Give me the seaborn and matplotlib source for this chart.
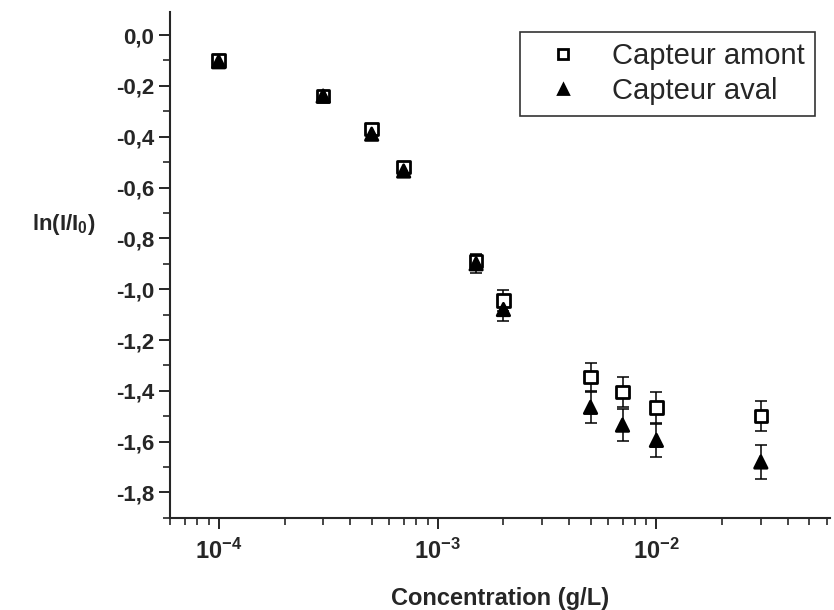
import seaborn as sns
import matplotlib.pyplot as plt
import matplotlib.ticker as mticker
import numpy as np
import pandas as pd

# data
concentration = [1e-4, 3e-4, 5e-4, 7e-4, 1.5e-3, 2e-3, 5e-3, 7e-3, 1e-2, 3e-2]
amont = [-0.10, -0.24, -0.37, -0.52, -0.89, -1.045, -1.345, -1.405, -1.465, -1.50]
amont_err = [0.015, 0.015, 0.02, 0.02, 0.03, 0.04, 0.055, 0.06, 0.06, 0.06]
aval = [-0.105, -0.24, -0.39, -0.535, -0.90, -1.08, -1.465, -1.535, -1.595, -1.68]
aval_err = [0.02, 0.02, 0.02, 0.025, 0.035, 0.045, 0.06, 0.062, 0.065, 0.068]

df = pd.concat([
    pd.DataFrame({"conc": concentration, "val": amont, "err": amont_err, "capteur": "Capteur amont"}),
    pd.DataFrame({"conc": concentration, "val": aval, "err": aval_err, "capteur": "Capteur aval"}),
])

sns.set_style("ticks")
plt.rcParams['font.family'] = ['Liberation Sans', 'DejaVu Sans']
plt.rcParams['mathtext.fontset'] = 'custom'
plt.rcParams['mathtext.rm'] = 'Liberation Sans'
plt.rcParams['mathtext.bf'] = 'Liberation Sans:bold'
plt.rcParams['axes.unicode_minus'] = False

fig = plt.figure(figsize=(8.34, 6.10), dpi=100)
ax = fig.add_axes([0.204, 0.151, 0.791, 0.829])

# error bars
for name, g in df.groupby("capteur"):
    ax.errorbar(g["conc"], g["val"], yerr=g["err"], fmt="none", ecolor="black",
                elinewidth=1.1, capsize=4, capthick=1.1, zorder=2)

sns.scatterplot(data=df, x="conc", y="val", style="capteur",
                markers={"Capteur amont": "s", "Capteur aval": "^"},
                hue="capteur", palette={"Capteur amont": "white", "Capteur aval": "black"},
                edgecolor="black", linewidth=2, s=80, ax=ax, zorder=3)

ax.set_xscale("log")
ax.set_xlim(6e-5, 6.2e-2)
ax.set_ylim(-1.9, 0.09)

ax.yaxis.set_major_locator(mticker.MultipleLocator(0.2))
ax.yaxis.set_minor_locator(mticker.MultipleLocator(0.1))
ax.yaxis.set_major_formatter(mticker.FuncFormatter(lambda v, p: f"{v:.1f}".replace(".", ",").replace("-0,0", "0,0")))
ax.xaxis.set_major_locator(mticker.LogLocator(base=10, numticks=10))
ax.xaxis.set_major_formatter(mticker.FuncFormatter(
    lambda v, p: r"$\mathbf{10^{%d}}$" % int(round(np.log10(v)))))
ax.xaxis.set_minor_locator(mticker.LogLocator(base=10, subs=np.arange(2, 10), numticks=20))
ax.xaxis.set_minor_formatter(mticker.NullFormatter())

ax.tick_params(axis="both", which="major", length=8, width=1.4, direction="out")
ax.tick_params(axis="both", which="minor", length=5, width=1.2, direction="out")
ax.tick_params(axis="y", labelsize=16)
ax.tick_params(axis="x", labelsize=17, pad=7)
for lab in ax.get_yticklabels():
    lab.set_fontweight("bold")

sns.despine(ax=ax)
ax.spines["left"].set_linewidth(1.5)
ax.spines["bottom"].set_linewidth(1.5)

ax.set_xlabel("Concentration (g/L)", fontsize=17, fontweight="bold", va="baseline")
ax.xaxis.set_label_coords(0.5, -0.172)
ax.set_ylabel(r"ln(I/I$_\mathbf{0}$)", fontsize=16, fontweight="bold", rotation=0,
              va="center", ha="center")
ax.yaxis.set_label_coords(-0.162, 0.58)

leg = ax.legend(loc="upper right", bbox_to_anchor=(1.0, 0.99), fontsize=21, frameon=True,
                fancybox=False, edgecolor="black", handletextpad=0.6, borderpad=0.35,
                markerscale=0.85, labelspacing=0.25, handlelength=2.2)
leg.get_frame().set_linewidth(1.2)
for h in leg.legend_handles:
    h.set_markeredgecolor("black")

fig.savefig("out.png", dpi=100)
